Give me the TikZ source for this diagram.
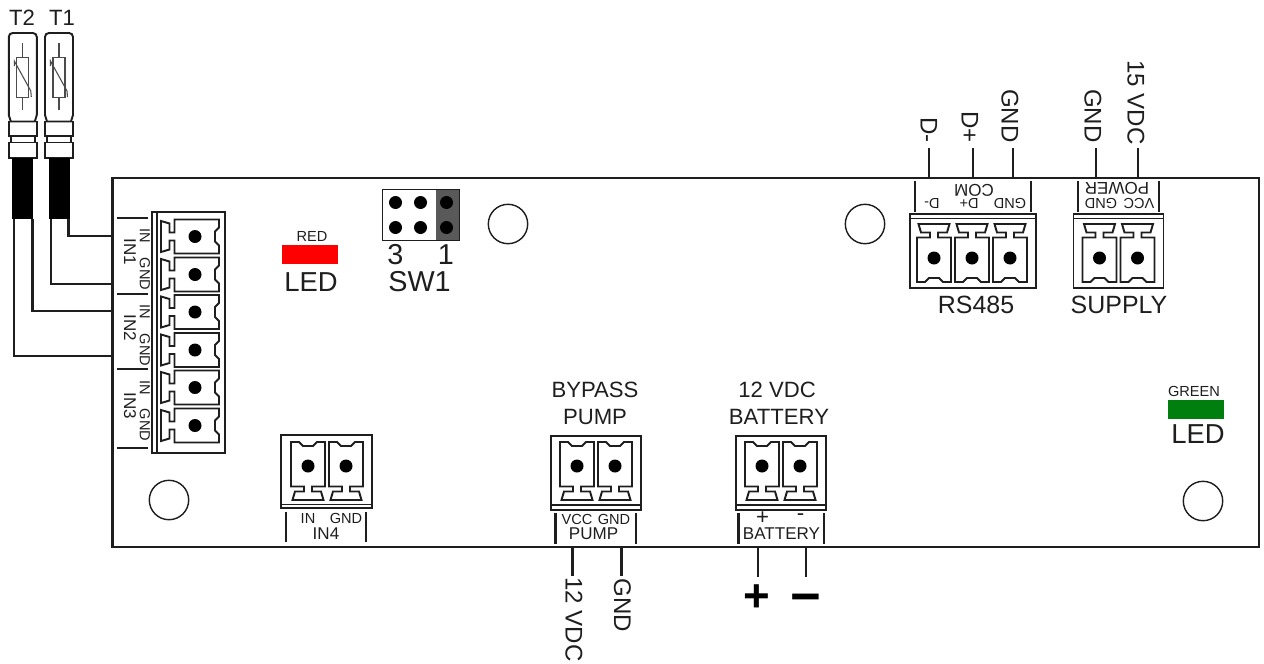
\documentclass[tikz,border=0pt]{standalone}
\usepackage{fontspec}
\setmainfont{Liberation Sans}
\usepackage{xcolor}
\usetikzlibrary{calc}
\definecolor{ink}{HTML}{1E1E1E}
\definecolor{swdark}{HTML}{595959}
\definecolor{ledred}{HTML}{FF0000}
\definecolor{ledgreen}{HTML}{007F0E}
\tikzset{
  wire/.style={draw=ink, line width=1.15pt},
  thinline/.style={draw=ink, line width=0.8pt},
  part/.style={draw=ink, line width=1.1pt},
  sensorpart/.style={draw=ink!80, line width=0.6pt},
  hole/.style={draw=ink, line width=0.8pt, fill=white},
  pin/.style={circle, fill=black, inner sep=0pt, minimum size=0.26cm},
  tiny/.style={text=ink, font=\fontsize{8.3}{10}\selectfont, inner sep=0pt},
  mid/.style={text=ink, font=\fontsize{9.7}{11}\selectfont, inner sep=0pt},
  lab/.style={text=ink, font=\fontsize{12.6}{15}\selectfont, inner sep=0pt},
  sidelab/.style={text=ink, font=\fontsize{13.7}{16}\selectfont, inner sep=0pt, rotate=-90},
  big/.style={text=ink, font=\fontsize{14.2}{17}\selectfont, inner sep=0pt},
  huge/.style={text=ink, font=\fontsize{15.6}{19}\selectfont, inner sep=0pt},
  swlab/.style={text=ink, font=\fontsize{16.4}{19}\selectfont, inner sep=0pt},
  sign/.style={text=black, font=\fontsize{26}{30}\selectfont\bfseries, inner sep=0pt},
  termcell/.pic={
    \draw[part] (-17,20.5) -- (-17,-24) -- (-9,-24) -- (-5,-20) -- (5,-20) -- (9,-24) -- (17,-24) -- (17,20.5)
      -- (4,20.5) -- (4,25.5) -- (13,25.5) -- (15.5,34) -- (-15.5,34) -- (-13,25.5) -- (-4,25.5) -- (-4,20.5) -- cycle;
    \node[pin] at (0,0) {};
  },
  thermprobe/.pic={
    \draw[part, rounded corners=2.2pt] (-14,82) -- (-14,0) -- (14,0) -- (14,82);
    \draw[part] (-14,82) -- (-12,88.5) -- (12,88.5) -- (14,82);
    \draw[part] (-14,88.5) rectangle (14,103);
    \draw[part] (-12,103) -- (-12,109.5) (12,103) -- (12,109.5);
    \draw[part, fill=white] (-14,109.5) rectangle (14,125);
    \fill[black] (-10.5,125) rectangle (10.5,186);
    \draw[sensorpart] (-6,24.5) rectangle (6,64.5);
    \draw[sensorpart] (0,10) -- (0,24.5) (0,64.5) -- (0,77);
    \draw[sensorpart] (-8.5,33) -- (-8.5,28) -- (8,58) -- (8.5,64);
  },
}
\begin{document}
\begin{tikzpicture}[x=0.02cm,y=-0.02cm]
  \useasboundingbox (0,0) rectangle (1264,663);

  % board
  \draw[wire] (112.5,178) rectangle (1259,547);
  \foreach \hx/\hy in {508/224,865/224,169/500,1203/501} {
    \draw[hole] (\hx,\hy) circle (19.7);
  }

  % sensors
  \pic at (22.8,33) {thermprobe};
  \pic at (59,33) {thermprobe};
  \node[lab] (labTtwo) at (22,18) {T2};
  \node[lab] (labTone) at (62,18) {T1};

  % wires from the sensors
  \coordinate (Tonea) at (68.5,219);
  \coordinate (Toneb) at (51,219);
  \coordinate (Ttwoa) at (32.5,219);
  \coordinate (Ttwob) at (14,219);
  \coordinate (inA) at (112.5,236);
  \coordinate (inB) at (112.5,284);
  \coordinate (inC) at (112.5,311);
  \coordinate (inD) at (112.5,356);
  \draw[wire] (Tonea) |- (inA);
  \draw[wire] (Toneb) |- (inB);
  \draw[wire] (Ttwoa) |- (inC);
  \draw[wire] (Ttwob) |- (inD);

  % connector IN1-IN3
  \draw[part] (152,212) rectangle (225,453);
  \draw[part] (157,212) -- (157,453);
  \foreach \py in {236.5,274.5,312,350,387.5,425.5} {
    \pic[rotate=-90] at (195,\py) {termcell};
  }
  \foreach \ly in {218,294,369,448} {
    \draw[wire] (117,\ly) -- (148,\ly);
  }
  \node[tiny,rotate=-90] (inOneA) at (145,236) {IN};
  \node[tiny,rotate=-90] (inOneB) at (145,274) {GND};
  \node[tiny,rotate=-90] (inTwoA) at (145,312) {IN};
  \node[tiny,rotate=-90] (inTwoB) at (145,350) {GND};
  \node[tiny,rotate=-90] (inThreeA) at (145,388) {IN};
  \node[tiny,rotate=-90] (inThreeB) at (145,425) {GND};
  \node[mid,rotate=-90] (inOne) at (130,252) {IN1};
  \node[mid,rotate=-90] (inTwo) at (130,328) {IN2};
  \node[mid,rotate=-90] (inThree) at (130,406) {IN3};

  % connector IN4
  \draw[part] (281,435) rectangle (372,508);
  \draw[thinline] (281,504.5) -- (372,504.5);
  \foreach \px in {308,346} {
    \pic at (\px,466) {termcell};
  }
  \draw[wire] (286,512) -- (286,542) (366,512) -- (366,542);
  \node[tiny] (inFourA) at (308,518.5) {IN};
  \node[tiny] (inFourB) at (346,518.5) {GND};
  \node[mid] (inFour) at (326,534) {IN4};

  % connector pump
  \draw[part] (551,436) rectangle (641,510);
  \draw[thinline] (551,505) -- (641,505);
  \foreach \px in {577,615} {
    \pic at (\px,466) {termcell};
  }
  \draw[wire] (555.5,513) -- (555.5,544) (636,513) -- (636,544);
  \node[tiny] (pumpA) at (577,519) {VCC};
  \node[tiny] (pumpB) at (614,519) {GND};
  \node[mid] (pumpLab) at (593.5,533.5) {PUMP};
  \node[lab] (bypassA) at (595,390) {BYPASS};
  \node[lab] (bypassB) at (595,417) {PUMP};
  \coordinate (pumpVa) at (572.5,547);
  \coordinate (pumpVb) at (572.5,576);
  \coordinate (pumpGa) at (621.5,547);
  \coordinate (pumpGb) at (621.5,576);
  \draw[wire] (pumpVa) -- (pumpVb);
  \draw[wire] (pumpGa) -- (pumpGb);
  \node[sidelab,anchor=west] (pumpV) at (574,577) {12 VDC};
  \node[sidelab,anchor=west] (pumpG) at (622.5,578) {GND};

  % connector battery
  \draw[part] (736,436) rectangle (826,510);
  \draw[thinline] (736,505) -- (826,505);
  \foreach \px in {762,800} {
    \pic at (\px,466) {termcell};
  }
  \draw[wire] (738.5,513) -- (738.5,544) (823.5,513) -- (823.5,544);
  \node[lab] (batA) at (762.5,518) {+};
  \node[lab] (batB) at (800.5,517) {-};
  \node[mid] (batLab) at (781.5,534) {BATTERY};
  \node[lab] (batTop) at (777,390) {12 VDC};
  \node[lab] (batBot) at (779,417) {BATTERY};
  \coordinate (batPa) at (757.5,547);
  \coordinate (batPb) at (757.5,577);
  \coordinate (batMa) at (805.5,547);
  \coordinate (batMb) at (805.5,577);
  \draw[wire] (batPa) -- (batPb);
  \draw[wire] (batMa) -- (batMb);
  \node[sign] (plus) at (757,598) {+};
  \node[sign,font=\fontsize{30}{34}\selectfont\bfseries] (minus) at (806,604) {−};

  % connector RS485
  \draw[part] (910,214) rectangle (1036,288);
  \draw[thinline] (910,218.5) -- (1036,218.5);
  \foreach \px in {934,972,1010} {
    \pic[rotate=180] at (\px,258) {termcell};
  }
  \draw[wire] (914.5,181) -- (914.5,212) (1031,181) -- (1031,212);
  \node[mid,rotate=180] (comLab) at (974,190) {COM};
  \node[tiny,rotate=180] (comA) at (932,204) {D-};
  \node[tiny,rotate=180] (comB) at (969,204) {D+};
  \node[tiny,rotate=180] (comC) at (1010,204) {GND};
  \node[big] (rsLab) at (976,305) {RS485};
  \coordinate (dma) at (929,178);
  \coordinate (dmb) at (929,148);
  \coordinate (dpa) at (973,178);
  \coordinate (dpb) at (973,148);
  \coordinate (gnda) at (1013,178);
  \coordinate (gndb) at (1013,148);
  \draw[wire] (dma) -- (dmb);
  \draw[wire] (dpa) -- (dpb);
  \draw[wire] (gnda) -- (gndb);
  \node[sidelab,anchor=east] (dmLab) at (929,143) {D-};
  \node[sidelab,anchor=east] (dpLab) at (970,143) {D+};
  \node[sidelab,anchor=east] (gndLab) at (1010,143) {GND};

  % connector supply
  \draw[part] (1073.5,214) rectangle (1163.5,288);
  \draw[thinline] (1073.5,218.5) -- (1163.5,218.5);
  \foreach \px in {1099.5,1137.5} {
    \pic[rotate=180] at (\px,258) {termcell};
  }
  \draw[wire] (1077.5,181) -- (1077.5,212) (1159,181) -- (1159,212);
  \node[mid,rotate=180] (powLab) at (1117,188) {POWER};
  \node[tiny,rotate=180] (powA) at (1139,204) {VCC};
  \node[tiny,rotate=180] (powB) at (1101,204) {GND};
  \node[big] (supLab) at (1119,305) {SUPPLY};
  \coordinate (supGa) at (1096,178);
  \coordinate (supGb) at (1096,148);
  \coordinate (supVa) at (1138,178);
  \coordinate (supVb) at (1138,148);
  \draw[wire] (supGa) -- (supGb);
  \draw[wire] (supVa) -- (supVb);
  \node[sidelab,anchor=east] (supG) at (1093,143) {GND};
  \node[sidelab,anchor=east] (supV) at (1136,145) {15 VDC};

  % switch
  \fill[swdark] (435.5,189.5) rectangle (459.5,240.5);
  \draw[part] (382.5,189.5) rectangle (459.5,240.5);
  \foreach \sx in {395.5,420.5,446.5} {
    \foreach \sy in {202.5,227.5} {
      \node[pin] at (\sx,\sy) {};
    }
  }
  \node[swlab] (swThree) at (395.5,255) {3};
  \node[swlab] (swOne) at (446,255) {1};
  \node[swlab] (swLab) at (419.5,282) {SW1};

  % LEDs
  \fill[ledred] (282,245) rectangle (338,264);
  \node[tiny] (redLab) at (312,236) {RED};
  \node[huge] (redLed) at (311,282) {LED};
  \fill[ledgreen] (1167.5,400) rectangle (1223.5,419);
  \node[tiny] (greenLab) at (1194,391) {GREEN};
  \node[huge] (greenLed) at (1198,434) {LED};
\end{tikzpicture}
\end{document}
